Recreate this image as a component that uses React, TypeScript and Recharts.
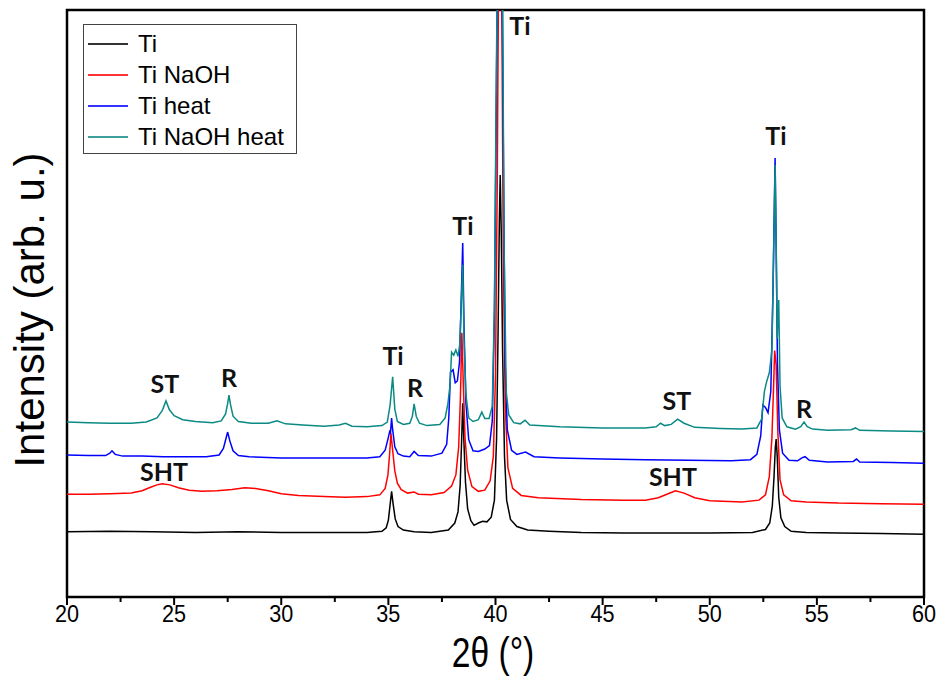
import React from "react";
import { LineChart, Line, XAxis, YAxis, ReferenceArea, ReferenceDot, Legend } from "recharts";

// 2θ (deg), intensity (arb. u.) pairs for each diffraction pattern
const tiPattern: [number, number][] = [
  [20, 11.1], [22, 11.2], [24, 11.1], [26, 11.0], [28, 11.1], [30, 11.0], [32, 11.0], [34, 11.0],
  [34.7, 11.2], [34.9, 11.8], [35.0, 13.1], [35.08, 15.7], [35.15, 18.0], [35.22, 15.9], [35.32, 13.3],
  [35.45, 12.0], [35.7, 11.4], [36.2, 11.1], [37.0, 11.0], [37.8, 11.4], [38.1, 12.6], [38.25, 14.5],
  [38.35, 19.0], [38.42, 26.8], [38.47, 33.0], [38.52, 27.0], [38.6, 19.5], [38.7, 15.0], [38.85, 13.0],
  [39.0, 12.2], [39.2, 12.6], [39.4, 12.9], [39.6, 12.8], [39.8, 13.6], [39.95, 16.5], [40.05, 27.0],
  [40.12, 45.0], [40.18, 64.0], [40.22, 71.9], [40.27, 62.0], [40.33, 42.0], [40.42, 24.0], [40.52, 16.5],
  [40.7, 13.2], [41.0, 12.0], [41.5, 11.4], [42.5, 11.2], [44, 11.0], [46, 10.9], [48, 10.9], [50, 10.9],
  [52, 11.0], [52.6, 11.5], [52.8, 12.6], [52.92, 15.5], [53.0, 20.5], [53.06, 25.5], [53.1, 26.9],
  [53.15, 24.0], [53.22, 17.0], [53.32, 13.5], [53.5, 12.0], [53.8, 11.2], [54.5, 11.0], [56, 10.9],
  [58, 10.8], [60, 10.7],
];

const tiNaohPattern: [number, number][] = [
  [20, 17.5], [21, 17.5], [22, 17.6], [23, 17.7], [23.5, 18.1], [23.9, 18.7], [24.2, 19.1], [24.45, 19.3],
  [24.8, 19.1], [25.2, 18.6], [25.7, 18.2], [26.3, 18.0], [27.0, 18.1], [27.7, 18.3], [28.3, 18.6],
  [28.8, 18.5], [29.4, 18.1], [30.0, 17.6], [30.8, 17.3], [32, 17.1], [33, 17.0], [34, 17.1], [34.6, 17.4],
  [34.85, 18.5], [34.98, 20.8], [35.06, 24.5], [35.12, 27.9], [35.2, 25.0], [35.3, 21.5], [35.42, 19.4],
  [35.6, 18.3], [35.9, 17.7], [36.2, 17.9], [36.4, 17.5], [37.0, 17.4], [37.6, 17.8], [37.95, 18.9],
  [38.15, 20.8], [38.28, 25.5], [38.36, 33.6], [38.43, 45.0], [38.5, 36.0], [38.58, 27.0], [38.7, 21.6],
  [38.9, 18.8], [39.2, 18.0], [39.5, 18.2], [39.75, 19.8], [39.9, 24.0], [40.0, 38.0], [40.08, 70.0],
  [40.15, 110], [40.28, 110], [40.36, 60.0], [40.45, 33.0], [40.58, 22.0], [40.8, 18.5], [41.2, 17.3],
  [42, 16.9], [44, 16.6], [46, 16.5], [47.0, 16.5], [47.6, 16.9], [48.0, 17.5], [48.4, 18.1], [48.8, 17.7],
  [49.3, 16.9], [50, 16.4], [51.5, 16.2], [52.3, 16.5], [52.6, 17.4], [52.78, 20.5], [52.9, 27.0],
  [52.98, 36.0], [53.03, 42.0], [53.1, 39.5], [53.18, 28.0], [53.28, 20.0], [53.45, 17.4], [53.8, 16.4],
  [54.5, 16.2], [56, 16.0], [58, 15.9], [60, 15.8],
];

const tiHeatPattern: [number, number][] = [
  [20, 24.2], [21, 24.1], [21.8, 24.1], [22.0, 24.5], [22.1, 24.9], [22.25, 24.3], [22.6, 24.0],
  [23.5, 24.0], [24.5, 23.9], [25.5, 23.9], [26.5, 23.9], [27.1, 24.2], [27.3, 25.3], [27.42, 27.0],
  [27.5, 28.1], [27.6, 26.6], [27.75, 24.9], [28.0, 24.1], [28.5, 23.9], [30, 23.7], [32, 23.7], [34, 23.7],
  [34.6, 23.9], [34.85, 25.0], [34.98, 26.9], [35.06, 28.2], [35.1, 28.0], [35.15, 30.5], [35.2, 28.5],
  [35.3, 25.6], [35.45, 24.4], [35.7, 24.0], [36.0, 23.9], [36.2, 24.8], [36.4, 24.1], [37.0, 24.0],
  [37.5, 24.5], [37.72, 26.0], [37.82, 30.5], [37.9, 38.3], [38.02, 38.7], [38.12, 36.5], [38.22, 36.8],
  [38.32, 40.0], [38.4, 50.6], [38.47, 60.3], [38.53, 46.0], [38.62, 33.0], [38.75, 26.8], [38.95, 24.9],
  [39.2, 24.8], [39.5, 25.2], [39.72, 25.8], [39.85, 30.0], [39.95, 48.0], [40.04, 85.0], [40.1, 110],
  [40.3, 110], [40.38, 70.0], [40.45, 40.0], [40.55, 28.5], [40.75, 25.0], [41.0, 24.3], [41.4, 24.7],
  [41.8, 23.9], [43, 23.7], [45, 23.5], [47, 23.4], [49, 23.3], [51, 23.2], [51.9, 23.4], [52.2, 24.3],
  [52.38, 27.5], [52.48, 32.7], [52.6, 32.3], [52.72, 31.4], [52.85, 35.0], [52.95, 52.0], [53.05, 74.8],
  [53.1, 60.0], [53.16, 40.0], [53.25, 28.5], [53.4, 24.5], [53.7, 23.3], [54.1, 23.2], [54.3, 23.7],
  [54.45, 23.9], [54.65, 23.3], [55.5, 23.0], [56.7, 23.1], [56.85, 23.5], [57.0, 23.0], [58.5, 22.9],
  [60, 22.8],
];

const tiNaohHeatPattern: [number, number][] = [
  [20, 29.8], [21, 29.7], [22, 29.6], [23, 29.6], [23.7, 29.8], [24.2, 30.5], [24.45, 31.8], [24.62, 33.4],
  [24.78, 31.9], [25.0, 30.9], [25.4, 30.2], [26.0, 29.9], [26.8, 29.7], [27.2, 30.0], [27.4, 31.2],
  [27.5, 33.0], [27.56, 34.4], [27.63, 32.8], [27.75, 30.8], [28.0, 29.9], [28.6, 29.6], [29.4, 29.6],
  [29.8, 30.0], [30.2, 29.5], [31, 29.3], [32, 29.1], [32.7, 29.3], [33.0, 29.6], [33.3, 29.1], [34, 29.0],
  [34.7, 29.2], [34.95, 29.8], [35.08, 32.7], [35.2, 37.5], [35.3, 32.0], [35.42, 29.9], [35.7, 29.4],
  [36.0, 29.6], [36.12, 30.8], [36.2, 32.9], [36.3, 30.8], [36.45, 29.6], [36.8, 29.2], [37.4, 29.4],
  [37.65, 30.5], [37.78, 33.0], [37.88, 36.2], [37.95, 41.7], [38.05, 41.2], [38.15, 42.1], [38.25, 41.0],
  [38.33, 43.0], [38.41, 50.6], [38.47, 56.6], [38.53, 44.0], [38.62, 34.5], [38.75, 30.5], [38.95, 29.9],
  [39.2, 30.2], [39.36, 31.5], [39.5, 30.4], [39.7, 30.4], [39.85, 32.5], [39.95, 50.0], [40.04, 90.0],
  [40.1, 110], [40.32, 110], [40.4, 60.0], [40.5, 35.0], [40.62, 31.0], [40.85, 29.7], [41.15, 29.5],
  [41.38, 30.1], [41.6, 29.3], [43, 29.0], [45, 28.8], [47, 28.8], [47.5, 29.0], [47.7, 29.6], [47.9, 29.2],
  [48.2, 29.4], [48.5, 30.3], [48.8, 29.6], [49.3, 28.9], [50.5, 28.7], [51.5, 28.6], [52.2, 28.8],
  [52.42, 30.3], [52.55, 35.0], [52.65, 36.6], [52.78, 38.2], [52.9, 42.0], [52.98, 58.0], [53.05, 73.6],
  [53.1, 60.0], [53.15, 44.0], [53.22, 50.6], [53.28, 36.0], [53.38, 30.5], [53.6, 29.0], [54.0, 28.6],
  [54.25, 29.0], [54.4, 29.8], [54.55, 29.0], [54.8, 28.6], [55.5, 28.4], [56.6, 28.5], [56.8, 28.8],
  [57.0, 28.4], [58.5, 28.3], [60, 28.2],
];

const seriesNames = ["Ti", "Ti NaOH", "Ti heat", "Ti NaOH heat"];
const seriesColors = ["#000000", "#ff0000", "#0000ff", "#0b8a84"];

// phase markers: label, 2θ, intensity position
const phaseLabels: [string, number, number][] = [
  ["ST", 24.57, 36.5],
  ["R", 27.56, 37.5],
  ["SHT", 24.53, 21.5],
  ["Ti", 35.22, 41.2],
  ["R", 36.24, 35.8],
  ["Ti", 38.48, 63.4],
  ["Ti", 41.14, 97.4],
  ["ST", 48.47, 33.6],
  ["SHT", 48.28, 20.6],
  ["Ti", 53.09, 78.7],
  ["R", 54.4, 32.2],
];

const xTicks = [20, 22.5, 25, 27.5, 30, 32.5, 35, 37.5, 40, 42.5, 45, 47.5, 50, 52.5, 55, 57.5, 60];

const toRows = (pts: [number, number][]) => pts.map(([t, v]) => ({ t, v }));
const patterns = [tiPattern, tiNaohPattern, tiHeatPattern, tiNaohHeatPattern].map(toRows);

const XTick = (props: any) => {
  const { x, y, payload } = props;
  const major = payload.value % 5 === 0;
  return (
    <g>
      <line x1={x} x2={x} y1={y} y2={y + (major ? 8 : 5)} stroke="#000" strokeWidth={2} />
      {major && (
        <text
          transform={`translate(${x},${y + 25}) scale(0.9,1)`}
          textAnchor="middle"
          fontFamily="'Liberation Sans', Arial, sans-serif"
          fontSize={24}
          fill="#000"
        >
          {payload.value}
        </text>
      )}
    </g>
  );
};

const LegendBox = () => (
  <div
    style={{
      width: 212,
      height: 125,
      border: "1px solid #444",
      background: "#fff",
      fontFamily: "'Liberation Sans', Arial, sans-serif",
      fontSize: 24,
      paddingTop: 3,
      boxSizing: "content-box",
    }}
  >
    {seriesNames.map((name, i) => (
      <div key={name} style={{ display: "flex", alignItems: "center", height: 31 }}>
        <div style={{ width: 40, height: 2, background: seriesColors[i], marginLeft: 4, marginRight: 10, opacity: 0.8 }} />
        <span style={{ lineHeight: "31px" }}>{name}</span>
      </div>
    ))}
  </div>
);

export default function App() {
  return (
    <div style={{ position: "absolute", left: 0, top: 0, width: 940, height: 676, background: "#fff" }}>
      <LineChart width={940} height={676} margin={{ top: 10, right: 16, bottom: 39, left: 67 }}>
        <XAxis
          dataKey="t"
          type="number"
          domain={[20, 60]}
          ticks={xTicks}
          interval={0}
          height={40}
          axisLine={false}
          tickLine={false}
          tickSize={0}
          tickMargin={0}
          tick={<XTick />}
          allowDataOverflow
        />
        <YAxis hide width={0} type="number" domain={[0, 100]} allowDataOverflow />
        {patterns.map((rows, i) => (
          <Line
            key={seriesNames[i]}
            data={rows}
            dataKey="v"
            name={seriesNames[i]}
            type="linear"
            stroke={seriesColors[i]}
            strokeWidth={1.5}
            dot={false}
            activeDot={false}
            isAnimationActive={false}
          />
        ))}
        <ReferenceArea x1={20} x2={60} y1={0} y2={100} fill="none" stroke="#000" strokeWidth={2.5} />
        {phaseLabels.map(([label, t, v], i) => (
          <ReferenceDot
            key={i}
            x={t}
            y={v}
            r={0}
            shape={(p: any) => (
              <text
                x={p.cx}
                y={p.cy}
                textAnchor="middle"
                dominantBaseline="central"
                fontFamily="Lato, 'Open Sans', sans-serif"
                fontWeight={700}
                fontSize={25}
                fill="#111"
              >
                {label}
              </text>
            )}
          />
        ))}
        <Legend
          layout="vertical"
          align="center"
          verticalAlign="middle"
          content={() => <LegendBox />}
          wrapperStyle={{ position: "absolute", left: 83, top: 24, width: "auto", height: "auto" }}
        />
      </LineChart>
      <svg
        width={940}
        height={676}
        style={{ position: "absolute", left: 0, top: 0, pointerEvents: "none" }}
      >
        <text
          transform="translate(493,667) scale(0.8,1)"
          textAnchor="middle"
          fontFamily="'Liberation Sans', Arial, sans-serif"
          fontSize={42}
          fill="#000"
        >
          2θ (°)
        </text>
        <text
          transform="translate(44,310) rotate(-90)"
          textAnchor="middle"
          fontFamily="'Liberation Sans', Arial, sans-serif"
          fontSize={42}
          fill="#000"
        >
          Intensity (arb. u.)
        </text>
      </svg>
    </div>
  );
}
